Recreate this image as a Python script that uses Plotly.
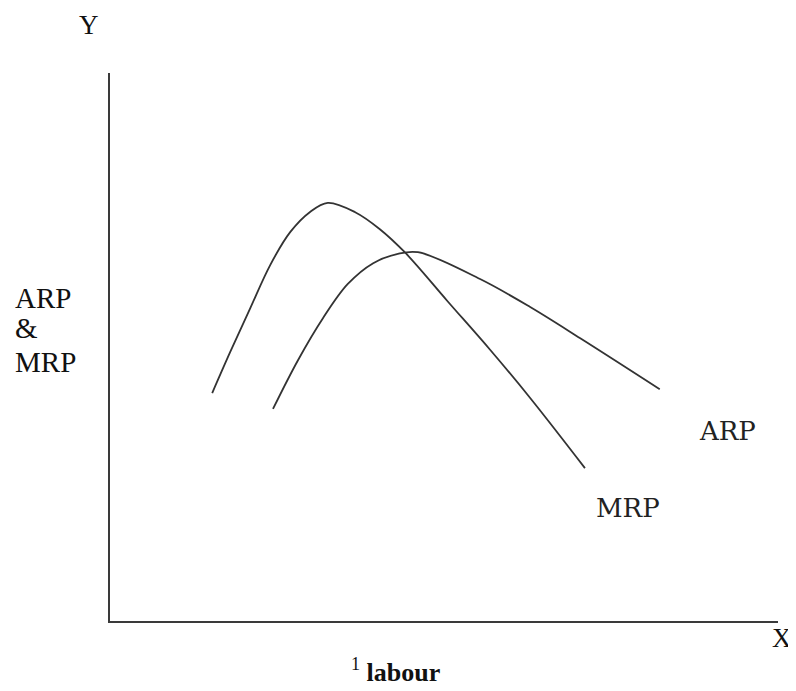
import plotly.graph_objects as go

# MRP curve (labour units, revenue units)
mrp_x = [1.53, 1.80, 2.10, 2.40, 2.70, 2.99, 3.26, 3.67, 4.04, 4.42, 5.05, 5.69, 6.29, 7.11]
mrp_y = [4.16, 4.91, 5.71, 6.50, 7.10, 7.46, 7.63, 7.46, 7.15, 6.72, 5.84, 4.95, 4.07, 2.79]

# ARP curve
arp_x = [2.44, 2.81, 3.19, 3.56, 3.94, 4.31, 4.61, 5.54, 6.29, 7.04, 8.23]
arp_y = [3.87, 4.75, 5.53, 6.15, 6.53, 6.70, 6.73, 6.24, 5.73, 5.16, 4.23]

line_style = dict(color="#333333", width=1.8, shape="spline", smoothing=1.0)

fig = go.Figure()
fig.add_trace(go.Scatter(x=mrp_x, y=mrp_y, mode="lines", line=line_style,
                         name="MRP", showlegend=False, hoverinfo="skip"))
fig.add_trace(go.Scatter(x=arp_x, y=arp_y, mode="lines", line=line_style,
                         name="ARP", showlegend=False, hoverinfo="skip"))

serif = "Liberation Serif, Times New Roman, serif"
slab = "DejaVu Serif, serif"

annotations = [
    dict(x=-0.031, y=1.088, text="Y", font=dict(family=serif, size=27, color="#111")),
    dict(x=1.024, y=-0.031, text="X", xanchor="right",
         font=dict(family=serif, size=27, color="#111")),
    dict(x=-0.145, y=0.590, text="ARP", xanchor="left",
         font=dict(family=serif, size=29, color="#111")),
    dict(x=-0.145, y=0.534, text="&amp;", xanchor="left",
         font=dict(family=serif, size=29, color="#111")),
    dict(x=-0.145, y=0.472, text="MRP", xanchor="left",
         font=dict(family=serif, size=29, color="#111")),
    dict(x=0.427, y=-0.091, text="<sup>1</sup> <b>labour</b>",
         font=dict(family=serif, size=26, color="#111")),
    dict(x=0.925, y=0.347, text="ARP", font=dict(family=slab, size=26, color="#222")),
    dict(x=0.775, y=0.206, text="MRP", font=dict(family=slab, size=26, color="#222")),
]
for a in annotations:
    a.setdefault("xanchor", "center")
    a.update(xref="paper", yref="paper", showarrow=False, yanchor="middle")

fig.update_layout(
    width=796, height=691,
    margin=dict(l=102, r=26, t=65, b=78),
    paper_bgcolor="white", plot_bgcolor="white",
    xaxis=dict(range=[0, 10], showgrid=False, zeroline=False, showticklabels=False,
               ticks="", showline=True, linecolor="#3a3a3a", linewidth=2),
    yaxis=dict(range=[0, 10], showgrid=False, zeroline=False, showticklabels=False,
               ticks="", showline=True, linecolor="#3a3a3a", linewidth=2),
    annotations=annotations,
)

fig.write_html("out.html")
